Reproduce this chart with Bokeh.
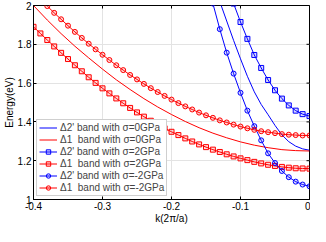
from bokeh.plotting import figure
from bokeh.models import Legend, LegendItem, Range1d, FixedTicker
from bokeh.embed import file_html
from bokeh.resources import INLINE
import math

# ---- data ----
k_d1_0 = [-0.40, -0.38, -0.36, -0.34, -0.32, -0.30, -0.28, -0.26, -0.24, -0.22, -0.20,
          -0.18, -0.16, -0.14, -0.12, -0.10, -0.08, -0.06, -0.04, -0.02, 0.0]
e_d1_0 = [2.000, 1.925, 1.855, 1.790, 1.730, 1.672, 1.617, 1.567, 1.520, 1.477, 1.438,
          1.402, 1.370, 1.342, 1.318, 1.297, 1.280, 1.267, 1.257, 1.252, 1.250]

k_d2_0 = [-0.13, -0.12, -0.11, -0.10, -0.09, -0.08, -0.07, -0.06, -0.05, -0.04, -0.03, -0.02, -0.01, 0.0]
e_d2_0 = [2.020, 1.920, 1.820, 1.725, 1.635, 1.555, 1.490, 1.437, 1.382, 1.333, 1.298, 1.275, 1.261, 1.254]

k_d2_p2 = [-0.12, -0.11, -0.10, -0.09, -0.08, -0.07, -0.06, -0.05, -0.04, -0.03, -0.02, -0.01, 0.0]
e_d2_p2 = [2.110, 2.010, 1.915, 1.828, 1.745, 1.678, 1.616, 1.563, 1.520, 1.485, 1.458, 1.440, 1.430]

k_d1_p2 = [-0.40, -0.39, -0.38, -0.37, -0.36, -0.35, -0.34, -0.33, -0.32, -0.31, -0.30,
           -0.29, -0.28, -0.27, -0.26, -0.25, -0.24, -0.23, -0.22, -0.21, -0.20,
           -0.19, -0.18, -0.17, -0.16, -0.15, -0.14, -0.13, -0.12, -0.11, -0.10,
           -0.09, -0.08, -0.07, -0.06, -0.05, -0.04, -0.03, -0.02, -0.01, 0.0]
e_d1_p2 = [1.890, 1.856, 1.822, 1.789, 1.756, 1.724, 1.692, 1.661, 1.630, 1.601, 1.573,
           1.547, 1.521, 1.496, 1.472, 1.449, 1.427, 1.406, 1.386, 1.367, 1.349,
           1.332, 1.315, 1.299, 1.284, 1.270, 1.257, 1.245, 1.233, 1.222, 1.212,
           1.203, 1.194, 1.186, 1.179, 1.173, 1.168, 1.164, 1.161, 1.160, 1.159]

k_d2_m2 = [-0.14, -0.13, -0.12, -0.11, -0.10, -0.09, -0.08, -0.07, -0.06, -0.05, -0.04, -0.03, -0.02, -0.01, 0.0]
e_d2_m2 = [2.010, 1.878, 1.757, 1.649, 1.550, 1.458, 1.378, 1.305, 1.238, 1.188, 1.147, 1.115, 1.092, 1.077, 1.068]

k_d1_m2 = [-0.38, -0.37, -0.36, -0.35, -0.34, -0.33, -0.32, -0.31, -0.30,
           -0.29, -0.28, -0.27, -0.26, -0.25, -0.24, -0.23, -0.22, -0.21, -0.20,
           -0.19, -0.18, -0.17, -0.16, -0.15, -0.14, -0.13, -0.12, -0.11, -0.10,
           -0.09, -0.08, -0.07, -0.06, -0.05, -0.04, -0.03, -0.02, -0.01, 0.0]
e_d1_m2 = [1.997, 1.962, 1.929, 1.896, 1.864, 1.833, 1.803, 1.774, 1.746,
           1.719, 1.692, 1.667, 1.642, 1.619, 1.596, 1.574, 1.554, 1.534, 1.515,
           1.497, 1.480, 1.464, 1.448, 1.434, 1.421, 1.408, 1.397, 1.386, 1.376,
           1.367, 1.359, 1.352, 1.347, 1.342, 1.337, 1.334, 1.332, 1.330, 1.330]

x_ticks = [-0.4, -0.3, -0.2, -0.1, 0.0]
y_ticks = [1.0, 1.2, 1.4, 1.6, 1.8, 2.0]
x_tick_labels = {-0.4: "-0.4", -0.3: "-0.3", -0.2: "-0.2", -0.1: "-0.1", 0.0: "0"}
y_tick_labels = {1.0: "1", 1.2: "1.2", 1.4: "1.4", 1.6: "1.6", 1.8: "1.8", 2.0: "2"}

labels = ["\u03942' band with \u03c3=0GPa",
          "\u03941  band with \u03c3=0GPa",
          "\u03942' band with \u03c3=2GPa",
          "\u03941  band with \u03c3=2GPa",
          "\u03942' band with \u03c3=-2GPa",
          "\u03941  band with \u03c3=-2GPa"]

BLUE = "#0000ff"
RED = "#ff0000"
FONT = "Liberation Sans"
X0, X1, Y0, Y1 = -0.4, 0.0, 1.0, 2.0

p = figure(width=310, height=226, output_backend="svg", toolbar_location=None,
           x_range=Range1d(X0, X1), y_range=Range1d(Y0, Y1),
           min_border_left=0, min_border_right=1, min_border_top=5, min_border_bottom=0)
p.background_fill_color = "white"
p.border_fill_color = "white"
p.outline_line_color = "black"
p.outline_line_width = 1

for ax, ticks, lab in ((p.xaxis[0], x_ticks, x_tick_labels), (p.yaxis[0], y_ticks, y_tick_labels)):
    ax.ticker = FixedTicker(ticks=ticks)
    ax.major_label_overrides = lab
    ax.major_tick_in = 3
    ax.major_tick_out = 0
    ax.minor_tick_in = 0
    ax.minor_tick_out = 0
    ax.major_label_text_font = FONT
    ax.major_label_text_font_size = "10px"
    ax.major_label_text_color = "black"
    ax.axis_label_text_font = FONT
    ax.axis_label_text_font_size = "10px"
    ax.axis_label_text_font_style = "normal"
    ax.axis_label_text_color = "black"
    ax.axis_line_color = "black"
    ax.major_tick_line_color = "black"
    ax.major_label_standoff = 2
    ax.axis_label_standoff = 0

p.xaxis[0].axis_label = "k(2\u03c0/a)"
p.yaxis[0].axis_label = "Energy(eV)"

p.xgrid.ticker = FixedTicker(ticks=x_ticks)
p.ygrid.ticker = FixedTicker(ticks=y_ticks)
p.grid.grid_line_color = "#e3e3e3"
p.grid.grid_line_width = 1

# inward ticks on the right and top edges of the box (half of each dash is clipped by the frame)
p.scatter([X1] * len(y_ticks), y_ticks, marker="dash", size=6, line_color="black", line_width=1)
p.scatter(x_ticks, [Y1] * len(x_ticks), marker="dash", size=6, angle=math.pi / 2,
          line_color="black", line_width=1)

lw = 1.0
r1 = p.line(k_d2_0, e_d2_0, line_color=BLUE, line_width=lw)
r2 = p.line(k_d1_0, e_d1_0, line_color=RED, line_width=lw)
r3l = p.line(k_d2_p2, e_d2_p2, line_color=BLUE, line_width=lw)
r3m = p.scatter(k_d2_p2, e_d2_p2, marker="square", size=5, line_color=BLUE, fill_color=BLUE,
                fill_alpha=0.15, line_width=1)
r4l = p.line(k_d1_p2, e_d1_p2, line_color=RED, line_width=lw)
r4m = p.scatter(k_d1_p2, e_d1_p2, marker="square", size=5, line_color=RED, fill_color=RED,
                fill_alpha=0.15, line_width=1)
r5l = p.line(k_d2_m2, e_d2_m2, line_color=BLUE, line_width=lw)
r5m = p.scatter(k_d2_m2, e_d2_m2, marker="circle", size=5, line_color=BLUE, fill_color=BLUE,
                fill_alpha=0.15, line_width=1)
r6l = p.line(k_d1_m2, e_d1_m2, line_color=RED, line_width=lw)
r6m = p.scatter(k_d1_m2, e_d1_m2, marker="circle", size=5, line_color=RED, fill_color=RED,
                fill_alpha=0.15, line_width=1)

items = [LegendItem(label=labels[0], renderers=[r1]),
         LegendItem(label=labels[1], renderers=[r2]),
         LegendItem(label=labels[2], renderers=[r3l, r3m]),
         LegendItem(label=labels[3], renderers=[r4l, r4m]),
         LegendItem(label=labels[4], renderers=[r5l, r5m]),
         LegendItem(label=labels[5], renderers=[r6l, r6m])]
legend = Legend(items=items, location="bottom_left", margin=3, padding=2, spacing=1,
                label_height=11, glyph_height=11, glyph_width=18, label_standoff=3,
                label_width=102,
                label_text_font=FONT, label_text_font_size="10px",
                border_line_color="#a0a0a0", border_line_width=1,
                background_fill_color="white", background_fill_alpha=1.0)
p.add_layout(legend, "center")

open("out.html", "w").write(file_html(p, INLINE))
